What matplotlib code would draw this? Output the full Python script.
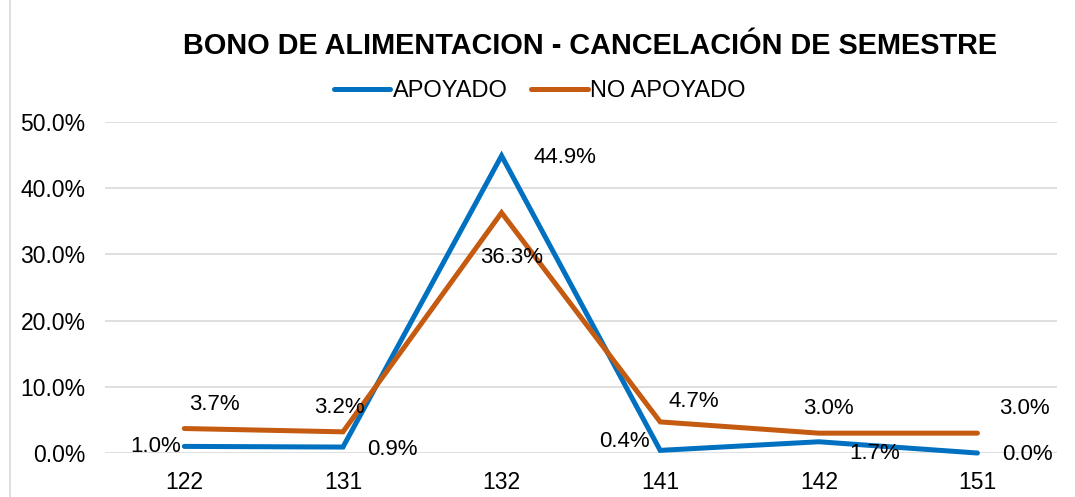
import matplotlib
matplotlib.use("Agg")
import matplotlib.pyplot as plt
from matplotlib.ticker import PercentFormatter
from matplotlib.patches import Rectangle

categories = ["122", "131", "132", "141", "142", "151"]
apoyado = [0.010, 0.009, 0.449, 0.004, 0.017, 0.000]
no_apoyado = [0.037, 0.032, 0.363, 0.047, 0.030, 0.030]
apoyado_labels = ["1.0%", "0.9%", "44.9%", "0.4%", "1.7%", "0.0%"]
no_apoyado_labels = ["3.7%", "3.2%", "36.3%", "4.7%", "3.0%", "3.0%"]

plt.rcParams['font.family'] = ['Liberation Sans', 'DejaVu Sans']

fig = plt.figure(figsize=(10.75, 4.97), dpi=100)
ax = fig.add_axes([0.0977, 0.0885, 0.983 - 0.0977, 0.7545 - 0.0885])

blue = "#0070C0"
orange = "#C55A11"
x = list(range(len(categories)))
ax.plot(x, apoyado, color=blue, lw=3.6, label="APOYADO", solid_capstyle="round",
        solid_joinstyle="miter", zorder=3, clip_on=False)
ax.plot(x, no_apoyado, color=orange, lw=3.6, label="NO APOYADO", solid_capstyle="round",
        solid_joinstyle="miter", zorder=3, clip_on=False)

ax.set_xlim(-0.5, len(categories) - 0.5)
ax.set_ylim(0, 0.5)
ax.set_yticks([0, 0.1, 0.2, 0.3, 0.4, 0.5])
ax.yaxis.set_major_formatter(PercentFormatter(1.0, decimals=1))
ax.set_xticks(x)
ax.set_xticklabels(categories)
ax.tick_params(axis='both', length=0, labelsize=16.5)
ax.tick_params(axis='x', pad=13)
ax.tick_params(axis='y', pad=14)
ax.grid(axis='y', color="#D9D9D9", lw=1.2)
ax.set_axisbelow(True)
for s in ax.spines.values():
    s.set_visible(False)

# data labels (offset pixels)
a_off = [(-29, 0), (49, -2), (63, -2), (-36, 9), (56, -12), (50, -1)]
n_off = [(30, 24), (-4, 24), (10, -45), (34, 20), (10, 25), (47, 25)]
for i in x:
    ax.annotate(apoyado_labels[i], (x[i], apoyado[i]), xytext=a_off[i], textcoords="offset pixels",
                ha="center", va="center", fontsize=16, color="#000000", zorder=4)
    ax.annotate(no_apoyado_labels[i], (x[i], no_apoyado[i]), xytext=n_off[i], textcoords="offset pixels",
                ha="center", va="center", fontsize=16, color="#000000", zorder=4)

fig.text(0.549, 0.908, "BONO DE ALIMENTACION - CANCELACIÓN DE SEMESTRE", ha="center", va="center",
         fontsize=20.8, fontweight="bold")
fig.legend(loc="center", bbox_to_anchor=(0.502, 0.816), ncol=2, frameon=False, fontsize=17,
           handlelength=2.4, handletextpad=0.1, columnspacing=1.0)

fig.patches.append(Rectangle((0.009, -0.01), 0.995, 1.02, transform=fig.transFigure,
                             fill=False, edgecolor="#D9D9D9", lw=1.2))

fig.savefig("out.png", dpi=100)
